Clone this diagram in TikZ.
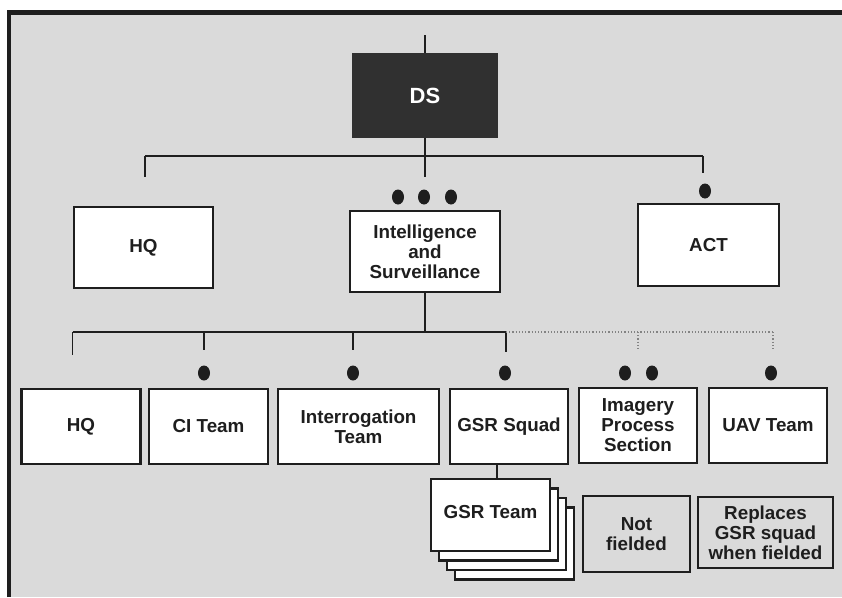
\documentclass[tikz,border=0pt]{standalone}
\usepackage{fontspec}
\setmainfont{Liberation Sans}
\usetikzlibrary{shapes.geometric}
\definecolor{bgc}{RGB}{218,218,218}
\definecolor{linec}{RGB}{30,30,30}
\definecolor{dsc}{RGB}{48,48,48}
\begin{document}
\begin{tikzpicture}[x=1pt,y=-1pt,
  box/.style={draw=linec, line width=2.6pt, fill=white, inner sep=0pt, align=center,
    font=\bfseries\fontsize{18.8}{20}\selectfont, text=linec},
  openbox/.style={box, fill=none},
  conn/.style={draw=linec, line width=1.3pt},
  dotconn/.style={draw=linec!55, line width=1.2pt, dotted},
  dotn/.style={ellipse, fill=linec, draw=none, minimum width=12pt, minimum height=15pt, inner sep=0pt}
]
\useasboundingbox (0,0) rectangle (842,597);
% frame
\fill[white] (0,0) rectangle (842,597);
\fill[bgc] (9,12.5) rectangle (842,597);
\draw[linec, line width=4.5pt] (9,597) -- (9,12.5) -- (842,12.5);

% top level
\node[box, fill=dsc, draw=dsc, text=white, minimum width=143pt, minimum height=83pt,
  font=\bfseries\fontsize{22}{24}\selectfont] (ds) at (425,95.5) {DS};
\node[box, minimum width=139pt, minimum height=81pt] (hq1) at (143.5,247.5) {HQ};
\node[box, minimum width=150pt, minimum height=81pt] (int) at (425,251.5) {Intelligence\\and\\Surveillance};
\node[box, minimum width=141pt, minimum height=82pt] (act) at (708.5,245) {ACT};

\coordinate (topend) at (425,35);
\coordinate (b1L) at (145,156);
\coordinate (b1C) at (425,156);
\coordinate (b1R) at (703,156);
\coordinate (e1) at (145,177);
\coordinate (e2) at (425,177);
\coordinate (e3) at (703,173);
\draw[conn] (topend) -- (ds.north);
\draw[conn] (ds.south) -- (b1C);
\draw[conn] (b1L) -- (b1R);
\draw[conn] (b1L) -- (e1);
\draw[conn] (b1C) -- (e2);
\draw[conn] (b1R) -- (e3);

\node[dotn] (d1) at (398,197) {};
\node[dotn] (d2) at (424,197) {};
\node[dotn] (d3) at (451,197) {};
\node[dotn] (d4) at (705,191) {};

% second level
\node[box, minimum width=119.5pt, minimum height=75pt] (hq2) at (81,426.5) {HQ};
\node[box, minimum width=119pt, minimum height=75pt] (ci) at (208.5,426.5) {CI Team};
\node[box, minimum width=161pt, minimum height=75pt] (intr) at (358.5,426.5) {Interrogation\\Team};
\node[box, minimum width=118pt, minimum height=75pt] (gsr) at (509,426.5) {GSR Squad};
\node[box, minimum width=118pt, minimum height=75pt] (img) at (638,425.5) {Imagery\\Process\\Section};
\node[box, minimum width=118pt, minimum height=75pt] (uav) at (768,425.5) {UAV Team};

\coordinate (b2L) at (72.5,332);
\coordinate (b2C) at (425,332);
\coordinate (b2R) at (506,332);
\coordinate (b2D) at (773,332);
\coordinate (b2I) at (638,332);
\coordinate (f1) at (72.5,355);
\coordinate (f2x) at (204,332);
\coordinate (f2) at (204,350);
\coordinate (f3x) at (353,332);
\coordinate (f3) at (353,350);
\coordinate (f4) at (506,352);
\coordinate (f5) at (638,350);
\coordinate (f6) at (773,350);
\draw[conn] (int.south) -- (b2C);
\draw[conn] (b2L) -- (b2R);
\draw[conn] (b2L) -- (f1);
\draw[conn] (f2x) -- (f2);
\draw[conn] (f3x) -- (f3);
\draw[conn] (b2R) -- (f4);
\draw[dotconn] (b2R) -- (b2D);
\draw[dotconn] (b2I) -- (f5);
\draw[dotconn] (b2D) -- (f6);

\node[dotn] (g1) at (204,373) {};
\node[dotn] (g2) at (353,373) {};
\node[dotn] (g3) at (505,373) {};
\node[dotn] (g4) at (625,373) {};
\node[dotn] (g5) at (652,373) {};
\node[dotn] (g6) at (771,373) {};

% GSR team stack
\node[box, minimum width=119pt, minimum height=72pt] (gt4) at (514.5,543.5) {};
\node[box, minimum width=119pt, minimum height=72pt] (gt3) at (506.5,534) {};
\node[box, minimum width=119pt, minimum height=72pt] (gt2) at (498.5,524.5) {};
\node[box, minimum width=119pt, minimum height=72pt, text depth=6pt] (gt1) at (490.5,515) {GSR Team};
\coordinate (gsrx) at (497,465);
\coordinate (gtx) at (497,479);
\draw[conn] (gsrx) -- (gtx);

\node[openbox, minimum width=107pt, minimum height=76pt] (nf) at (636.5,534) {Not\\fielded};
\node[openbox, minimum width=135pt, minimum height=71pt] (rep) at (765.5,532.5) {Replaces\\GSR squad\\when fielded};
\end{tikzpicture}
\end{document}
